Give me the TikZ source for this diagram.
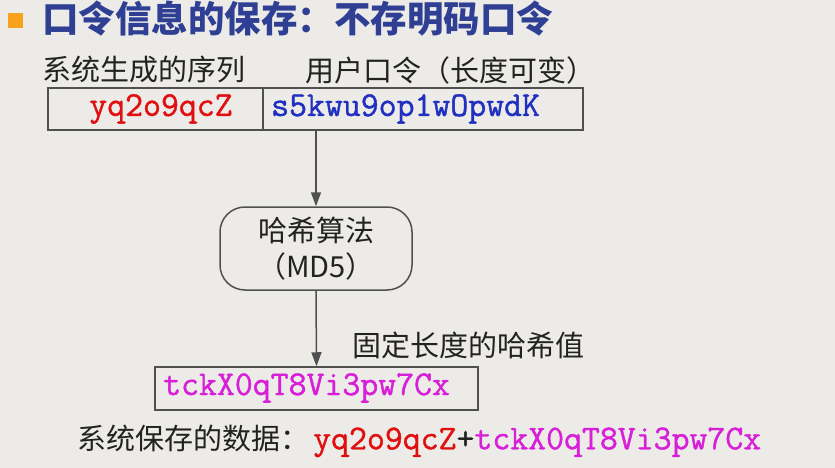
\documentclass[tikz,border=0pt]{standalone}
\usepackage{fontspec}
\setmainfont{Noto Sans CJK SC}
\newfontfamily\pwfont[AutoFakeBold=1.2]{Latin Modern Mono}
\usetikzlibrary{arrows.meta}
\definecolor{bg}{HTML}{EDEBE8}
\definecolor{titleblue}{HTML}{2E3F94}
\definecolor{bulletorange}{HTML}{F7A21B}
\definecolor{pwred}{HTML}{E01010}
\definecolor{pwblue}{HTML}{2030C0}
\definecolor{pwmag}{HTML}{D81FD8}
\definecolor{linegray}{HTML}{505050}
\definecolor{txt}{HTML}{222222}
\newcommand{\pwsize}{\fontsize{34.8}{38}\pwfont\bfseries}
\tikzset{
  cjktext/.style={inner sep=0pt, text=txt, font=\fontsize{29}{36}\selectfont},
  monotext/.style={inner sep=0pt, font=\pwsize},
  cell/.style={draw=linegray, line width=1.5pt, inner sep=0pt},
  arrowline/.style={draw=linegray, line width=1.5pt, -{Triangle[length=14pt,width=10pt]}},
}
\begin{document}
\begin{tikzpicture}[x=1pt,y=-1pt]
\fill[bg] (0,0) rectangle (835,468);
\useasboundingbox (0,0) rectangle (835,468);
% title
\node[fill=bulletorange, minimum size=15pt, inner sep=0pt] (bullet) at (15.5,20.5) {};
\node[anchor=west, inner sep=0pt, text=titleblue, font=\fontsize{36.5}{40}\selectfont\bfseries] (title) at (42,19) {口令信息的保存：不存明码口令};
% subtitles
\node[cjktext, anchor=west] (sys) at (42,70) {系统生成的序列};
\node[cjktext, anchor=west] (user) at (305,70) {用户口令（长度可变）};
% input box
\node[cell, minimum width=215pt, minimum height=42pt] (leftcell) at (155.5,109) {};
\node[cell, minimum width=320pt, minimum height=42pt] (rightcell) at (423,109) {};
\node[monotext, text=pwred] (salt) at (161,109) {yq2o9qcZ};
\node[monotext, text=pwblue, anchor=west] (pw) at (271,109) {s5kwu9op1wOpwdK};
% hash box
\node[cell, rounded corners=25pt, minimum width=192pt, minimum height=83pt, align=center, font=\fontsize{29}{36}\selectfont, text=txt] (hash) at (316,248.5) {哈希算法\\（MD5）};
% output box
\node[cell, minimum width=323pt, minimum height=43pt] (hashval) at (316.5,388.5) {};
\node[monotext, text=pwmag, anchor=west] (hv) at (163,388) {tckX0qT8Vi3pw7Cx};
% arrows
\draw[arrowline] (rightcell.south -| hash.north) -- (hash.north);
\draw[arrowline] (hash.south) -- (hashval.north);
\node[cjktext, anchor=west] (fixed) at (352,345) {固定长度的哈希值};
% bottom line
\node[cjktext, anchor=west] (stored) at (77,441) {系统保存的数据：\hspace{4pt}{\pwsize\textcolor{pwred}{yq2o9qcZ}\textcolor{txt}{+}\textcolor{pwmag}{tckX0qT8Vi3pw7Cx}}};
\end{tikzpicture}
\end{document}
